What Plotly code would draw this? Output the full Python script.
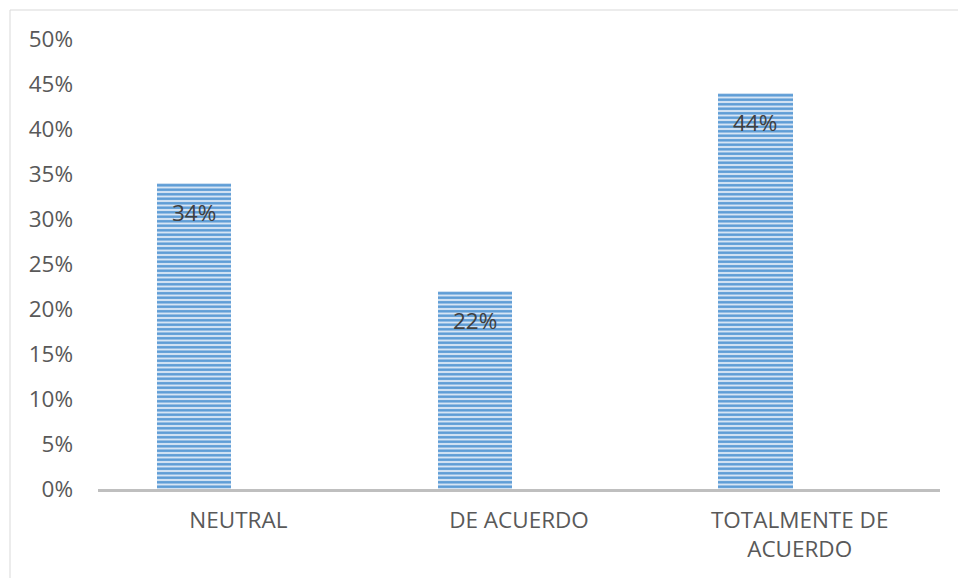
import plotly.graph_objects as go

# Response categories and their share of answers
categories = ["NEUTRAL", "DE ACUERDO", "TOTALMENTE DE<br>ACUERDO"]
shares = [0.34, 0.22, 0.44]
y_ticks = [0, 0.05, 0.10, 0.15, 0.20, 0.25, 0.30, 0.35, 0.40, 0.45, 0.50]

W, H = 958, 578
ML, MR, MT, MB = 98, 18, 39, 89
pw, ph = W - ML - MR, H - MT - MB

FONT = "Open Sans"
TXT = "#595959"
FS = 22.5

BAR_W = 0.265
BAR_OFF = -0.29

fig = go.Figure(
    go.Bar(
        x=categories,
        y=shares,
        width=BAR_W,
        offset=BAR_OFF,
        marker=dict(
            color="#d6e5f4",
            line=dict(width=0),
            pattern=dict(shape="-", fgcolor="#5b9bd5", bgcolor="#d6e5f4",
                          size=4.5, solidity=0.55, fillmode="replace"),
        ),
        hoverinfo="skip",
    )
)

# value labels just below the top of each bar
for i, v in enumerate(shares):
    fig.add_annotation(
        x=i + BAR_OFF + BAR_W / 2, y=v, xref="x", yref="y",
        text=f"{round(v * 100)}%", showarrow=False,
        yshift=-29, font=dict(family=FONT, size=FS, color="#404040"),
    )

# light frame around the whole chart area
fig.add_shape(
    type="rect", xref="paper", yref="paper",
    x0=(10 - ML) / pw, x1=1.2, y0=-0.4, y1=(H - MB - 10) / ph,
    line=dict(color="#d9d9d9", width=1), fillcolor="rgba(0,0,0,0)", layer="below",
)

fig.update_layout(
    width=W, height=H,
    margin=dict(l=ML, r=MR, t=MT, b=MB, pad=0),
    paper_bgcolor="white", plot_bgcolor="white",
    showlegend=False,
    bargap=0,
    font=dict(family=FONT, size=FS, color=TXT),
    xaxis=dict(
        showline=True, linecolor="#bfbfbf", linewidth=3,
        showgrid=False, ticks="", zeroline=False,
        tickfont=dict(family=FONT, size=FS, color=TXT),
        ticklabelstandoff=9,
    ),
    yaxis=dict(
        range=[0, 0.5], tickvals=y_ticks, tickformat=".0%",
        showgrid=False, zeroline=False, showline=False, ticks="",
        tickfont=dict(family=FONT, size=FS, color=TXT),
        ticklabelstandoff=24,
    ),
)

fig.write_html("out.html")
